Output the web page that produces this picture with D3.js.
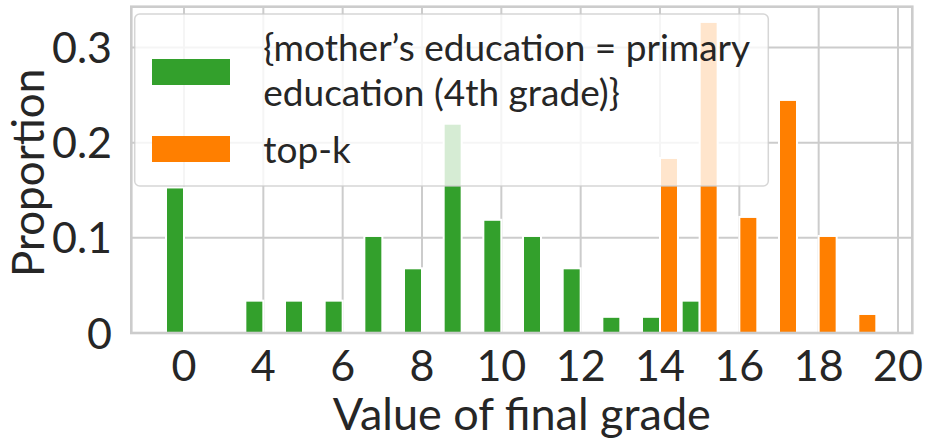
<!DOCTYPE html>
<html>
<head>
<meta charset="utf-8">
<script src="https://cdn.jsdelivr.net/npm/d3@7"></script>
<style>
  html, body { margin: 0; padding: 0; background: #fff; }
  svg { display: block; }
  text { font-family: "Lato", "DejaVu Sans", sans-serif; fill: #262626; }
</style>
</head>
<body>
<svg id="chart" width="928" height="448"></svg>
<script>
// ---- data ----
const categories = ["0","1","4","5","6","7","8","9","10","11","12","13","14","15","16","17","18","19","20"];
const subgroupValues = [0.153,0,0.034,0.034,0.034,0.102,0.068,0.220,0.119,0.102,0.068,0.017,0.017,0.034,0,0,0,0,0];
const topkValues     = [0,0,0,0,0,0,0,0,0,0,0,0,0.184,0.327,0.122,0.245,0.102,0.020,0];
const xTickLabels = ["0","4","6","8","10","12","14","16","18","20"];
const yTicks = [0, 0.1, 0.2, 0.3];
const yTickLabels = ["0","0.1","0.2","0.3"];
const seriesNames = ["{mother\u2019s education = primary", "education (4th grade)}"];
const seriesNames2 = ["top-k"];
const colors = {sub: "#33a02c", topk: "#ff7f00"};

// ---- layout ----
const plot = {left: 131.3, right: 912.3, top: 6.7, bottom: 333};
const svg = d3.select("#chart");

const x = d3.scalePoint().domain(categories).range([184, 898]);
const y = d3.scaleLinear().domain([0, 0.343]).range([plot.bottom, plot.top]);
const bw = x.step() * 0.4535;

// grid
const grid = svg.append("g");
grid.selectAll("line.v").data(xTickLabels).join("line")
  .attr("x1", d => x(d)).attr("x2", d => x(d))
  .attr("y1", plot.top).attr("y2", plot.bottom)
  .attr("stroke", "#cccccc").attr("stroke-width", 2);
grid.selectAll("line.h").data(yTicks.filter(d => d > 0)).join("line")
  .attr("x1", plot.left).attr("x2", plot.right)
  .attr("y1", d => y(d)).attr("y2", d => y(d))
  .attr("stroke", "#cccccc").attr("stroke-width", 2);

// bars
const bars = svg.append("g");
const rows = categories.map((c, i) => ({c, sub: subgroupValues[i], topk: topkValues[i]}));
bars.selectAll("rect.sub").data(rows.filter(d => d.sub > 0)).join("rect")
  .attr("x", d => x(d.c) - bw).attr("width", bw)
  .attr("y", d => y(d.sub)).attr("height", d => y(0) - y(d.sub))
  .attr("fill", colors.sub).attr("stroke", "#fff").attr("stroke-width", 2);
bars.selectAll("rect.topk").data(rows.filter(d => d.topk > 0)).join("rect")
  .attr("x", d => x(d.c)).attr("width", bw)
  .attr("y", d => y(d.topk)).attr("height", d => y(0) - y(d.topk))
  .attr("fill", colors.topk).attr("stroke", "#fff").attr("stroke-width", 2);

// frame
svg.append("rect")
  .attr("x", plot.left).attr("y", plot.top)
  .attr("width", plot.right - plot.left).attr("height", plot.bottom - plot.top)
  .attr("fill", "none").attr("stroke", "#cccccc").attr("stroke-width", 2.6);

// axes labels
const tickFont = 43;
svg.append("g").selectAll("text").data(xTickLabels).join("text")
  .attr("x", d => x(d)).attr("y", 381)
  .attr("text-anchor", "middle").attr("font-size", tickFont)
  .text(d => d);
svg.append("g").selectAll("text").data(yTicks).join("text")
  .attr("x", 112).attr("y", d => y(d) + 15.5)
  .attr("text-anchor", "end").attr("font-size", tickFont)
  .text((d, i) => yTickLabels[i]);

svg.append("text")
  .attr("x", (plot.left + plot.right) / 2).attr("y", 430)
  .attr("text-anchor", "middle").attr("font-size", 45)
  .text("Value of final grade");
svg.append("text")
  .attr("transform", `translate(43.5, ${(plot.top + plot.bottom) / 2 + 3}) rotate(-90)`)
  .attr("text-anchor", "middle").attr("font-size", 44)
  .text("Proportion");

// legend
const lg = svg.append("g");
lg.append("rect")
  .attr("x", 134.7).attr("y", 14).attr("width", 633.6).attr("height", 172).attr("rx", 5)
  .attr("fill", "#fff").attr("fill-opacity", 0.8)
  .attr("stroke", "#cccccc").attr("stroke-opacity", 0.8).attr("stroke-width", 1.5);
lg.append("rect").attr("x", 152).attr("y", 59).attr("width", 78).attr("height", 26).attr("fill", colors.sub);
lg.append("rect").attr("x", 152).attr("y", 136).attr("width", 78).attr("height", 26).attr("fill", colors.topk);
const legFont = 37;
lg.selectAll("text.l1").data(seriesNames).join("text")
  .attr("x", 263.3).attr("y", (d, i) => 60.5 + i * 45.3)
  .attr("font-size", legFont).text(d => d);
lg.selectAll("text.l2").data(seriesNames2).join("text")
  .attr("x", 263.3).attr("y", 163.3)
  .attr("font-size", legFont).text(d => d);
</script>
</body>
</html>
